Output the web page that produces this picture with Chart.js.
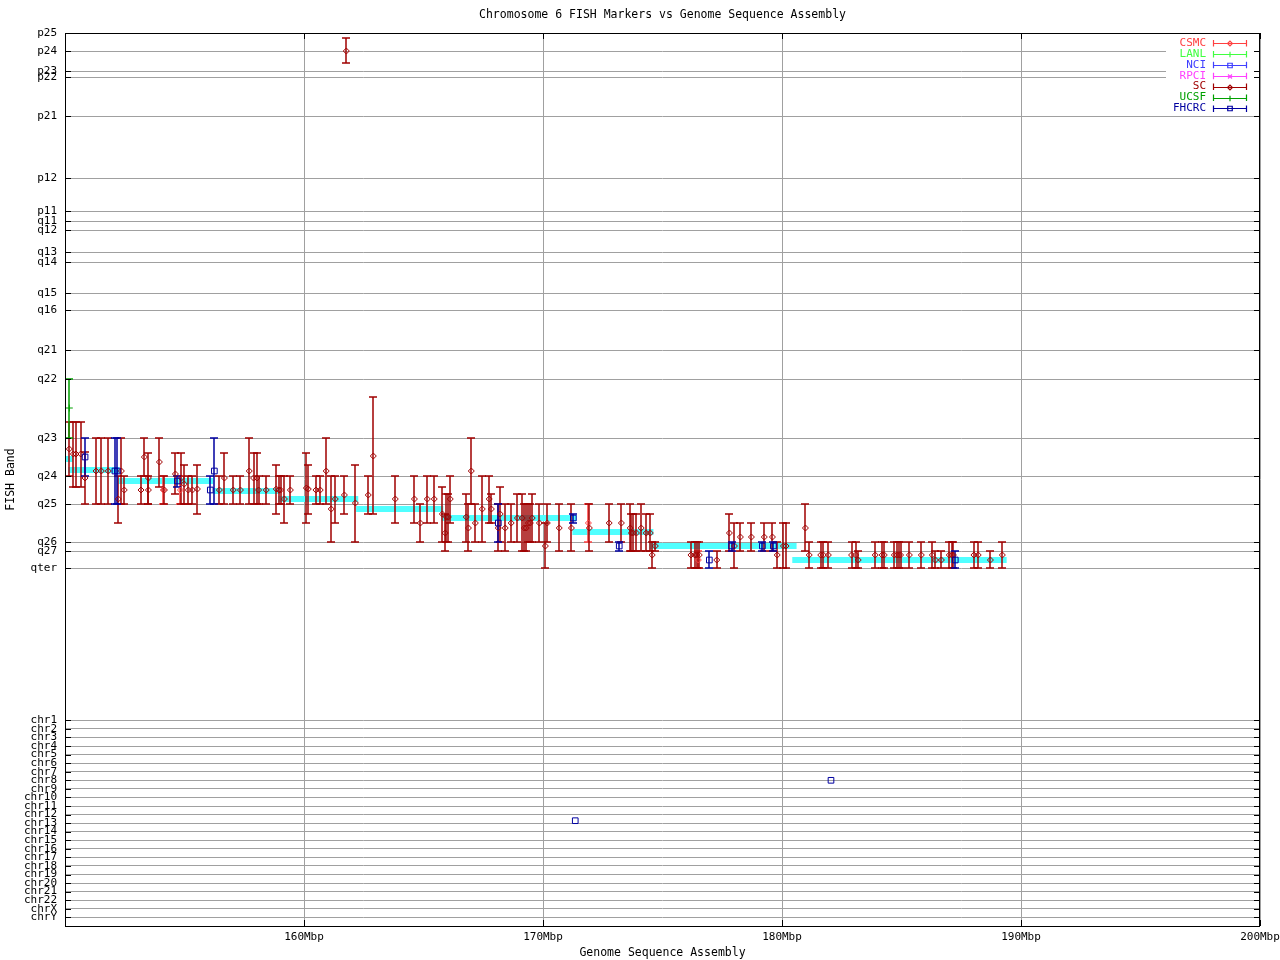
<!DOCTYPE html>
<html><head><meta charset="utf-8">
<script src="https://cdn.jsdelivr.net/npm/chart.js@4/dist/chart.umd.min.js"></script>
<style>html,body{margin:0;padding:0;background:#fff;}#wrap{width:1280px;height:960px;}</style>
</head><body><div id="wrap"><canvas id="c" width="1280" height="960"></canvas></div>
<script>
// ---- axis definitions ----
const xTickValues = [160, 170, 180, 190, 200];
const bandLabels = ['p25','p24','p23','p22','p21','p12','p11','q11','q12','q13','q14','q15','q16','q21','q22','q23','q24','q25','q26','q27','qter',
  'chr1','chr2','chr3','chr4','chr5','chr6','chr7','chr8','chr9','chr10','chr11','chr12','chr13','chr14','chr15','chr16','chr17','chr18','chr19','chr20','chr21','chr22','chrX','chrY'];
const bandValues = [0,18,38,44,83,145,178,188,197,219,229,260,277,317,346,405,443,471,509,518,535,
  687.3,695.9,704.4,713.0,721.6,730.1,738.7,747.3,755.8,764.4,773.0,781.5,790.1,798.6,807.2,815.8,824.3,832.9,841.5,850.0,858.6,867.2,875.7,884.3];
const bandMax = 893;

// ---- expected band along the assembly (cyan) ----
const cyanStart = [149.9, 150.14, 152.23, 156.2, 158.92, 162.18, 165.76, 171.23, 174.45, 180.43];
const cyanEnd   = [150.32, 152.27, 156.2, 159.0, 162.27, 165.83, 171.41, 174.62, 180.61, 189.4];
const cyanBand  = [426, 437, 448, 458, 466, 476, 485, 499, 513, 527];

// ---- SC ----
const scPos = [150.18,150.35,150.46,150.66,150.84,151.30,151.52,151.81,152.23,152.36,152.48,153.18,153.32,153.49,153.49,153.95,154.16,154.62,154.87,154.99,
  155.16,155.33,155.54,156.46,156.67,157.04,157.34,157.71,157.89,158.03,158.10,158.42,158.84,158.95,159.02,159.18,159.43,160.10,160.18,160.50,
  160.68,160.93,161.14,161.31,161.69,161.77,162.15,162.69,162.90,163.82,164.62,164.87,165.16,165.45,165.79,165.91,165.96,166.04,166.12,166.79,
  166.88,167.00,167.17,167.46,167.75,167.84,168.13,168.21,168.42,168.67,168.93,169.13,169.22,169.30,169.39,169.47,169.55,169.85,170.10,170.18,
  170.68,171.19,171.94,172.77,173.28,173.65,173.70,173.78,173.91,174.11,174.32,174.49,174.57,174.70,176.19,176.35,176.43,176.54,177.27,177.80,
  178.01,178.26,178.72,179.26,179.60,179.80,180.06,180.17,180.98,181.14,181.62,181.73,181.94,182.91,183.08,183.19,183.90,184.19,184.28,184.70,
  184.80,184.88,184.96,185.33,185.83,186.29,186.42,186.67,187.00,187.10,187.17,188.03,188.21,188.72,189.22];
const scBand = [416,421,421,421,445,438,438,438,466,438,457,457,424,445,457,429,457,441,445,451,
  457,457,456,457,445,457,457,438,445,445,457,457,456,457,457,466,457,455,456,457,
  457,438,476,466,462,18,470,462,423,466,466,490,466,466,481,500,484,484,466,484,
  495,438,490,476,466,476,495,481,495,490,485,485,495,495,490,490,485,490,513,490,
  495,495,495,490,490,495,500,500,500,495,500,500,522,513,522,522,522,522,527,500,
  513,504,504,504,504,522,513,513,495,522,522,522,522,522,522,527,522,522,522,522,
  522,522,522,522,522,522,527,527,522,522,522,522,522,527,522];
const scLow = [389,389,389,389,419,405,405,405,443,405,443,443,405,420,443,405,443,420,420,432,
  443,443,432,443,420,443,443,405,420,420,443,443,432,443,443,443,443,420,432,443,
  443,405,443,443,443,5,432,443,364,443,443,471,443,443,454,481,461,461,443,461,
  471,405,471,443,443,461,471,454,471,471,461,461,471,471,471,471,461,471,490,471,
  471,471,471,471,471,471,481,481,481,471,481,481,509,509,509,509,509,509,518,481,
  490,490,490,490,490,509,490,490,471,509,509,509,509,509,509,518,509,509,509,509,
  509,509,509,509,509,509,518,518,509,509,509,509,509,518,509];
const scHigh = [443,454,454,454,471,471,471,471,490,471,471,471,443,471,471,454,471,461,471,471,
  471,471,481,471,471,471,471,471,471,471,471,471,481,471,471,490,471,490,481,471,
  471,471,509,490,481,30,509,481,481,490,490,509,490,490,509,518,509,509,490,509,
  518,471,509,509,490,490,518,509,518,509,509,518,518,518,509,509,509,509,535,509,
  518,518,518,509,509,518,518,518,518,518,518,518,535,518,535,535,535,535,535,518,
  535,518,518,518,518,535,535,535,518,535,535,535,535,535,535,535,535,535,535,535,
  535,535,535,535,535,535,535,535,535,535,535,535,535,535,535];

// ---- CSMC ----
const csmcPos  = [154.11, 154.83, 171.90, 176.50];
const csmcBand = [457, 457, 490, 527];
const csmcLow  = [443, 443, 471, 518];
const csmcHigh = [471, 471, 509, 535];

// ---- FHCRC ----
const fhPos  = [150.84,152.09,152.19,154.70,156.08,156.25,168.13,171.27,171.35,173.19,176.96,177.89,179.18,179.64,182.05,187.25];
const fhBand = [424,438,438,448,457,438,490,485,787.7,513,527,513,513,513,747.3,527];
const fhLow  = [405,405,405,443,443,405,471,481,787.7,509,518,509,509,509,747.3,518];
const fhHigh = [443,471,471,454,471,471,509,490,787.7,518,535,518,518,518,747.3,535];

// ---- UCSF ----
const ucsfPos = [150.18];
const ucsfBand = [375];
const ucsfLow = [346];
const ucsfHigh = [405];

// ---- LANL / NCI / RPCI (no marks in view) ----
const lanlPos = [], lanlBand = [], lanlLow = [], lanlHigh = [];
const nciPos = [], nciBand = [], nciLow = [], nciHigh = [];
const rpciPos = [], rpciBand = [], rpciLow = [], rpciHigh = [];

const MONO = '"DejaVu Sans Mono", "Liberation Mono", monospace';

function pts(p, b, l, h) { return p.map((x, i) => ({x: x, y: b[i], lo: l[i], hi: h[i]})); }

const cyanData = [];
cyanStart.forEach((s, i) => {
  cyanData.push({x: s, y: cyanBand[i]});
  cyanData.push({x: cyanEnd[i], y: cyanBand[i]});
  cyanData.push({x: cyanEnd[i], y: null});
});

const series = [
  {label: 'CSMC',  color: '#ff4040', style: 'rectRot',  r: 3,   data: pts(csmcPos, csmcBand, csmcLow, csmcHigh)},
  {label: 'LANL',  color: '#40ff40', style: 'cross',    r: 3.5, data: pts(lanlPos, lanlBand, lanlLow, lanlHigh)},
  {label: 'NCI',   color: '#4040ff', style: 'rect',     r: 4,   data: pts(nciPos, nciBand, nciLow, nciHigh)},
  {label: 'RPCI',  color: '#ff40ff', style: 'crossRot', r: 3.5, data: pts(rpciPos, rpciBand, rpciLow, rpciHigh)},
  {label: 'SC',    color: '#a00000', style: 'rectRot',  r: 3,   data: pts(scPos, scBand, scLow, scHigh)},
  {label: 'UCSF',  color: '#00a000', style: 'cross',    r: 3.5, data: pts(ucsfPos, ucsfBand, ucsfLow, ucsfHigh)},
  {label: 'FHCRC', color: '#0000a0', style: 'rect',     r: 4,   data: pts(fhPos, fhBand, fhLow, fhHigh)}
];

const datasets = [{
  type: 'line', label: 'expected', data: cyanData, borderColor: '#50ffff', borderWidth: 6,
  pointRadius: 0, spanGaps: false, order: 100, borderCapStyle: 'butt', tension: 0
}];
series.forEach((s, i) => datasets.push({
  type: 'scatter', label: s.label, data: s.data, borderColor: s.color,
  backgroundColor: 'rgba(255,255,255,0)', pointBackgroundColor: 'rgba(255,255,255,0)',
  pointStyle: s.style, pointRadius: s.r, pointBorderWidth: 1, pointHoverRadius: s.r, order: 10 - i
}));

const decor = {
  id: 'decor',
  afterDatasetDraw(chart, args) {
    if (args.index !== 0) return;
    const ctx = chart.ctx, xs = chart.scales.x, ys = chart.scales.y, a = chart.chartArea;
    ctx.save();
    ctx.beginPath(); ctx.rect(a.left, a.top, a.right - a.left, a.bottom - a.top); ctx.clip();
    ctx.lineWidth = 1.5;
    series.forEach(s => {
      ctx.strokeStyle = s.color;
      s.data.forEach(p => {
        if (p.lo === p.hi) return;
        const x = Math.round(xs.getPixelForValue(p.x));
        const y1 = ys.getPixelForValue(p.lo), y2 = ys.getPixelForValue(p.hi);
        ctx.beginPath();
        ctx.moveTo(x, y1); ctx.lineTo(x, y2);
        ctx.moveTo(x - 4, y1); ctx.lineTo(x + 4, y1);
        ctx.moveTo(x - 4, y2); ctx.lineTo(x + 4, y2);
        ctx.stroke();
      });
    });
    ctx.restore();
  },
  afterDraw(chart) {
    const ctx = chart.ctx, a = chart.chartArea, xs = chart.scales.x, ys = chart.scales.y;
    ctx.save();
    // legend box
    ctx.fillStyle = '#fff';
    ctx.fillRect(1166, 36, 88, 78);
    ctx.font = '11px ' + MONO;
    ctx.textAlign = 'right'; ctx.textBaseline = 'middle';
    series.forEach((s, i) => {
      const y = 43 + i * 10.9;
      ctx.fillStyle = s.color;
      ctx.fillText(s.label, 1206, y);
      ctx.strokeStyle = s.color; ctx.lineWidth = 1.2;
      ctx.beginPath();
      ctx.moveTo(1213, Math.round(y) + 0.5); ctx.lineTo(1247, Math.round(y) + 0.5);
      ctx.moveTo(1213.5, y - 3); ctx.lineTo(1213.5, y + 3.5);
      ctx.moveTo(1246.5, y - 3); ctx.lineTo(1246.5, y + 3.5);
      ctx.stroke();
      ctx.fillStyle = 'rgba(255,255,255,0)';
      Chart.helpers.drawPoint(ctx, {pointStyle: s.style, radius: s.r * 0.8, rotation: 0, borderWidth: 1}, 1230, Math.round(y) + 0.5);
    });
    // border
    ctx.strokeStyle = '#000'; ctx.lineWidth = 1;
    ctx.strokeRect(a.left + 0.5, a.top + 0.5, a.right - a.left - 1, a.bottom - a.top);
    // tick marks
    ctx.beginPath();
    bandValues.forEach(v => {
      const y = Math.round(ys.getPixelForValue(v)) + 0.5;
      ctx.moveTo(a.left, y); ctx.lineTo(a.left + 6, y);
      ctx.moveTo(a.right - 6, y); ctx.lineTo(a.right, y);
    });
    xTickValues.forEach(v => {
      const x = Math.round(xs.getPixelForValue(v)) + 0.5;
      ctx.moveTo(x, a.bottom); ctx.lineTo(x, a.bottom - 6);
      ctx.moveTo(x, a.top); ctx.lineTo(x, a.top + 6);
    });
    ctx.stroke();
    // title
    ctx.fillStyle = '#000';
    ctx.font = '11.5px ' + MONO;
    ctx.textAlign = 'center'; ctx.textBaseline = 'middle';
    ctx.fillText('Chromosome 6 FISH Markers vs Genome Sequence Assembly', (a.left + a.right) / 2, 15);
    ctx.restore();
  }
};

new Chart(document.getElementById('c'), {
  type: 'scatter',
  data: {datasets: datasets},
  plugins: [decor],
  options: {
    responsive: false, animation: false, devicePixelRatio: 1,
    layout: {padding: {top: 33, right: 20, left: 0, bottom: 0}},
    plugins: {legend: {display: false}, title: {display: false}, tooltip: {enabled: false}},
    scales: {
      x: {
        type: 'linear', min: 150, max: 200,
        afterBuildTicks: s => { s.ticks = xTickValues.map(v => ({value: v})); },
        afterFit: s => { s.height = 34; s.paddingLeft = 0; s.paddingRight = 0; },
        grid: {color: '#a0a0a0', lineWidth: 1, drawTicks: false},
        border: {display: false},
        ticks: {callback: v => v + 'Mbp', color: '#000', font: {family: MONO, size: 11}, padding: 5, maxRotation: 0, autoSkip: false},
        title: {display: true, text: 'Genome Sequence Assembly', color: '#000', font: {family: MONO, size: 11.5}, padding: {top: 0, bottom: 0}}
      },
      y: {
        type: 'linear', min: 0, max: bandMax, reverse: true,
        afterBuildTicks: s => { s.ticks = bandValues.map(v => ({value: v})); },
        afterFit: s => { s.width = 65; s.paddingTop = 0; s.paddingBottom = 0; },
        grid: {color: '#a0a0a0', lineWidth: 1, drawTicks: false},
        border: {display: false},
        ticks: {callback: (v, i) => bandLabels[i], color: '#000', font: {family: MONO, size: 11}, padding: 8, autoSkip: false},
        title: {display: true, text: 'FISH Band', color: '#000', font: {family: MONO, size: 11.5}, padding: {top: 4, bottom: 4}}
      }
    }
  }
});
</script></body></html>
